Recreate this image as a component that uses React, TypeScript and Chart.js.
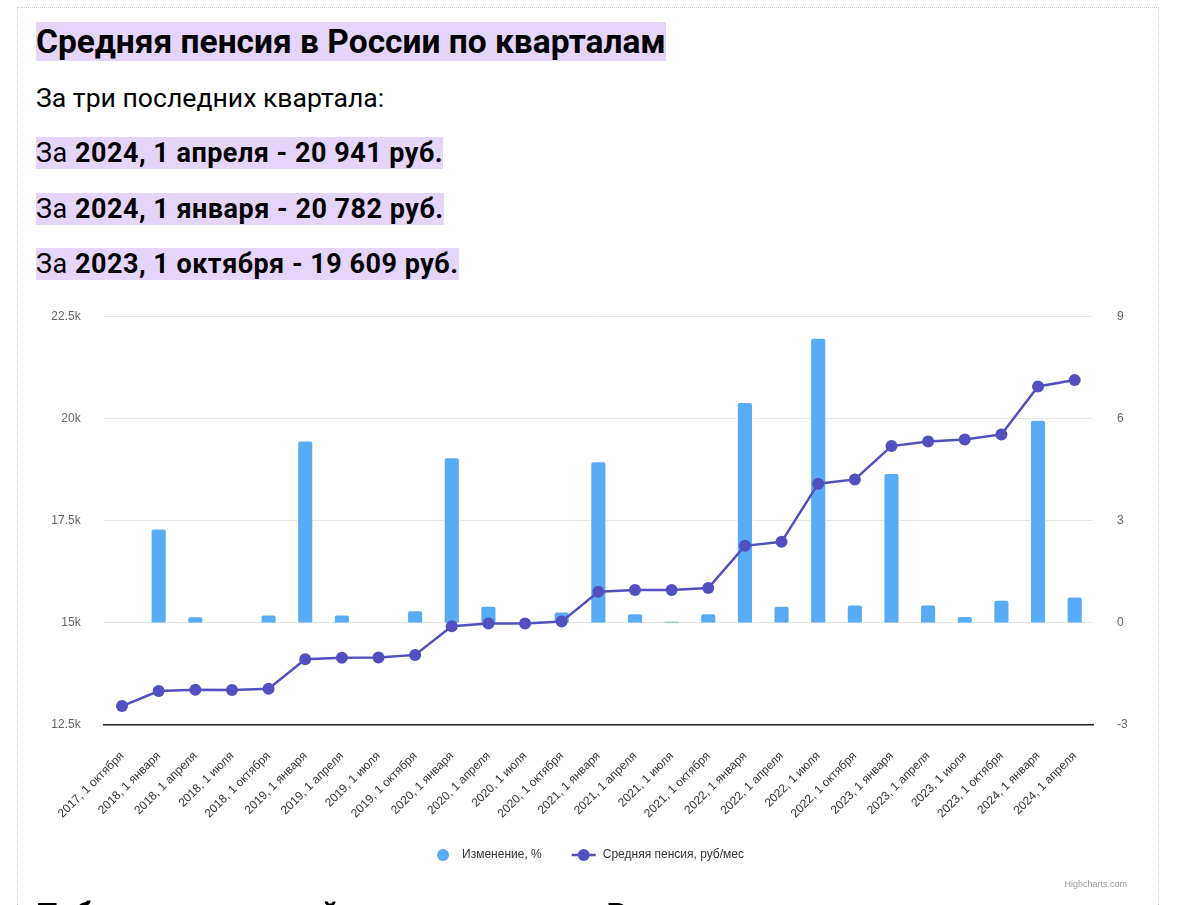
import React, { useEffect, useRef } from "react";
import { Chart, registerables } from "chart.js";

Chart.register(...registerables);

const categories = [
  "2017, 1 октября",
  "2018, 1 января",
  "2018, 1 апреля",
  "2018, 1 июля",
  "2018, 1 октября",
  "2019, 1 января",
  "2019, 1 апреля",
  "2019, 1 июля",
  "2019, 1 октября",
  "2020, 1 января",
  "2020, 1 апреля",
  "2020, 1 июля",
  "2020, 1 октября",
  "2021, 1 января",
  "2021, 1 апреля",
  "2021, 1 июля",
  "2021, 1 октября",
  "2022, 1 января",
  "2022, 1 апреля",
  "2022, 1 июля",
  "2022, 1 октября",
  "2023, 1 января",
  "2023, 1 апреля",
  "2023, 1 июля",
  "2023, 1 октября",
  "2024, 1 января",
  "2024, 1 апреля",
];

const pensionValues = [
  12963, 13329, 13361, 13354, 13385, 14110, 14144, 14152, 14215, 14915, 14980,
  14980, 15029, 15761, 15800, 15800, 15850, 16883, 16980, 18403, 18508, 19322,
  19435, 19484, 19609, 20782, 20941,
];

const changeValues = [
  0, 2.77, 0.19, 0, 0.24, 5.35, 0.24, 0, 0.37, 4.86, 0.5, 0, 0.33, 4.74, 0.28,
  0.06, 0.28, 6.48, 0.5, 8.37, 0.54, 4.4, 0.54, 0.2, 0.68, 5.96, 0.77,
];

const leftTickValues = [12500, 15000, 17500, 20000, 22500];
const leftTickLabels = ["12.5k", "15k", "17.5k", "20k", "22.5k"];
const rightTickValues = [-3, 0, 3, 6, 9];

const seriesNames = ["Средняя пенсия, руб/мес", "Изменение, %"];

const headerLines = [
  { year: "2024, 1 апреля", value: "20 941 руб." },
  { year: "2024, 1 января", value: "20 782 руб." },
  { year: "2023, 1 октября", value: "19 609 руб." },
];

const BAR_COLOR = "#58acf5";
const LINE_COLOR = "#5050c0";
const HL = "#e6d5fa";
const CHART_FONT = '"Liberation Sans", Arial, Helvetica, sans-serif';

const CANVAS_TOP = 285;
const CANVAS_H = 615;

const legendPlugin = {
  id: "customLegend",
  afterDraw(chart: any) {
    const ctx = chart.ctx;
    ctx.save();
    ctx.font = `12px ${CHART_FONT}`;
    ctx.textBaseline = "middle";
    const barLabel = chart.data.datasets[1].label;
    const lineLabel = chart.data.datasets[0].label;
    const w1 = ctx.measureText(barLabel).width;
    const w2 = ctx.measureText(lineLabel).width;
    const total = 12 + 13 + w1 + 30 + 24 + 7 + w2;
    let x = chart.width / 2 + 3 - total / 2;
    const y = 855 - CANVAS_TOP;
    ctx.fillStyle = BAR_COLOR;
    ctx.beginPath();
    ctx.arc(x + 6, y, 6, 0, Math.PI * 2);
    ctx.fill();
    x += 12 + 13;
    ctx.fillStyle = "#333333";
    ctx.fillText(barLabel, x, y);
    x += w1 + 30;
    ctx.strokeStyle = LINE_COLOR;
    ctx.lineWidth = 2.5;
    ctx.beginPath();
    ctx.moveTo(x, y);
    ctx.lineTo(x + 24, y);
    ctx.stroke();
    ctx.fillStyle = LINE_COLOR;
    ctx.beginPath();
    ctx.arc(x + 12, y, 6, 0, Math.PI * 2);
    ctx.fill();
    x += 24 + 7;
    ctx.fillStyle = "#333333";
    ctx.fillText(lineLabel, x, y);
    ctx.font = `9px ${CHART_FONT}`;
    ctx.fillStyle = "#999999";
    ctx.textAlign = "right";
    ctx.fillText("Highcharts.com", 1109, 885 - CANVAS_TOP);
    ctx.restore();
  },
};

export default function App() {
  const ref = useRef<HTMLCanvasElement>(null);

  useEffect(() => {
    const chart = new Chart(ref.current as HTMLCanvasElement, {
      data: {
        labels: categories,
        datasets: [
          {
            type: "line",
            label: seriesNames[0],
            data: pensionValues,
            yAxisID: "y",
            borderColor: LINE_COLOR,
            backgroundColor: LINE_COLOR,
            borderWidth: 2.5,
            pointRadius: 6,
            pointHoverRadius: 6,
            pointBorderWidth: 0,
            pointBackgroundColor: LINE_COLOR,
            tension: 0,
            order: 1,
          },
          {
            type: "bar",
            label: seriesNames[1],
            data: changeValues,
            yAxisID: "y1",
            backgroundColor: BAR_COLOR,
            borderColor: "#ffffff",
            borderWidth: 1,
            borderRadius: 3,
            borderSkipped: "start",
            barPercentage: 0.44,
            categoryPercentage: 1,
            order: 2,
          },
        ],
      } as any,
      options: {
        responsive: false,
        animation: false,
        events: [],
        layout: { padding: { top: 10, bottom: 65, left: 0, right: 0 } },
        plugins: {
          legend: { display: false },
          tooltip: { enabled: false },
          title: { display: false },
        },
        scales: {
          x: {
            type: "category",
            offset: true,
            grid: { display: false, drawTicks: false },
            border: { display: true, color: "#222222", width: 1.5 },
            ticks: {
              autoSkip: false,
              minRotation: 45,
              maxRotation: 45,
              padding: 24,
              color: "#333333",
              font: { family: CHART_FONT, size: 12 },
            },
            afterFit(scale: any) {
              scale.height = 110;
            },
          },
          y: {
            position: "left",
            min: leftTickValues[0],
            max: leftTickValues[leftTickValues.length - 1],
            afterBuildTicks(scale: any) {
              scale.ticks = leftTickValues.map((v) => ({ value: v }));
            },
            grid: { color: "#e6e6e6", lineWidth: 1, drawTicks: false },
            border: { display: false },
            ticks: {
              padding: 23,
              color: "#666666",
              font: { family: CHART_FONT, size: 12 },
              callback: (v: any) => {
                const i = leftTickValues.indexOf(Number(v));
                return i >= 0 ? leftTickLabels[i] : "";
              },
            },
            afterFit(scale: any) {
              scale.width = 85.7;
            },
          },
          y1: {
            position: "right",
            min: rightTickValues[0],
            max: rightTickValues[rightTickValues.length - 1],
            afterBuildTicks(scale: any) {
              scale.ticks = rightTickValues.map((v) => ({ value: v }));
            },
            grid: { display: false, drawTicks: false },
            border: { display: false },
            ticks: {
              padding: 24,
              color: "#666666",
              font: { family: CHART_FONT, size: 12 },
              callback: (v: any) => String(v),
            },
            afterFit(scale: any) {
              scale.width = 64;
            },
          },
        },
      } as any,
      plugins: [legendPlugin],
    });
    return () => chart.destroy();
  }, []);

  const textFont = 'Roboto, "Noto Sans", sans-serif';

  return (
    <div
      style={{
        position: "fixed",
        left: 0,
        top: 0,
        width: 1200,
        height: 905,
        overflow: "hidden",
        background: "#ffffff",
        fontFamily: textFont,
        color: "#000",
      }}
    >
      <div
        style={{
          position: "absolute",
          left: 17,
          top: 7,
          width: 1142,
          height: 1000,
          border: "1px dotted #c8c8c8",
          boxSizing: "border-box",
        }}
      />
      <div
        style={{
          position: "absolute",
          left: 36,
          top: 22,
          fontSize: 33.5,
          fontWeight: 700,
          lineHeight: "normal",
          whiteSpace: "nowrap",
        }}
      >
        <span style={{ background: HL }}>Средняя пенсия в России по кварталам</span>
      </div>
      <div
        style={{
          position: "absolute",
          left: 36,
          top: 82,
          fontSize: 26.6,
          lineHeight: "normal",
          whiteSpace: "nowrap",
        }}
      >
        За три последних квартала:
      </div>
      {headerLines.map((h, i) => (
        <div
          key={i}
          style={{
            position: "absolute",
            left: 36,
            top: [137, 193, 248][i],
            fontSize: 27,
            letterSpacing: 0.5,
            lineHeight: "normal",
            whiteSpace: "nowrap",
          }}
        >
          <span style={{ background: HL }}>
            За <b>{h.year} - {h.value}</b>
          </span>
        </div>
      ))}
      <div style={{ position: "absolute", left: 18, top: CANVAS_TOP, width: 1139, height: CANVAS_H }}>
        <canvas
          ref={ref}
          width={1139}
          height={CANVAS_H}
          style={{ width: 1139, height: CANVAS_H, display: "block" }}
        />
      </div>
      <div
        style={{
          position: "absolute",
          left: 36,
          top: 895,
          fontSize: 32,
          fontWeight: 700,
          lineHeight: "normal",
          whiteSpace: "nowrap",
        }}
      >
        Публикуем средний размер пенсии в России
      </div>
    </div>
  );
}
